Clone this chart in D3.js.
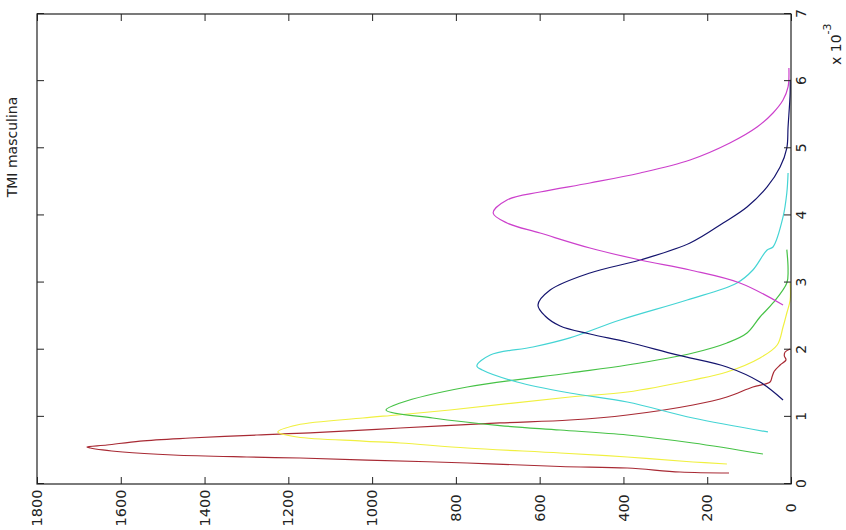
<!DOCTYPE html>
<html><head><meta charset="utf-8">
<script src="https://cdn.jsdelivr.net/npm/d3@7"></script>
<style>body{margin:0;background:#fff}svg{display:block}</style>
</head><body>
<svg id="c" width="846" height="530"></svg>
<script>
// x values are in units of 1e-3 (axis multiplier "x 10^-3")
const redX = [0.164,0.179,0.238,0.261,0.313,0.357,0.387,0.402,0.432,0.477,0.536,0.551,0.581,0.640,0.685,0.730,0.760,0.834,0.909,0.953,1.028,1.177,1.296,1.445,1.519,1.600,1.680,1.772,1.847,1.910,1.966,2.010];
const redY = [148,265,391,551,773,1012,1172,1299,1475,1595,1673,1681,1633,1554,1435,1275,1148,933,695,528,391,234,153,91,50,45,40,26,12,16,14,2];

const yellowX = [0.298,0.328,0.402,0.462,0.536,0.611,0.640,0.700,0.775,0.879,0.983,1.028,1.102,1.296,1.370,1.549,1.668,1.877,2.070,2.338,2.547,2.740,3.000];
const yellowY = [153,234,391,551,773,933,1022,1179,1225,1179,1022,940,814,528,391,234,153,74,33,19,10,2,2];

const greenX = [0.447,0.611,0.730,0.804,0.870,0.983,1.102,1.206,1.445,1.653,1.772,1.951,2.100,2.249,2.487,2.696,2.994,3.190,3.490];
const greenY = [67,234,391,551,695,855,967,933,773,528,391,234,153,105,74,43,10,7,10];

const cyanX = [0.775,0.983,1.221,1.355,1.519,1.698,1.757,1.921,2.040,2.176,2.443,2.741,2.994,3.187,3.485,3.530,3.977,4.334,4.632];
const cyanY = [55,234,391,528,654,737,750,718,616,528,408,248,129,91,57,43,19,10,7];

const blueX = [1.251,1.519,1.743,1.922,2.115,2.234,2.353,2.502,2.666,2.889,3.143,3.336,3.589,3.887,4.126,4.424,4.721,5.004,5.317,5.824,6.020];
const blueY = [19,74,153,272,391,480,551,587,604,575,480,360,241,162,105,57,26,10,7,2,2];

const magentaX = [2.666,2.994,3.187,3.336,3.515,3.738,3.887,4.036,4.230,4.349,4.483,4.632,4.826,5.079,5.317,5.526,5.719,5.913,6.196];
const magentaY = [19,122,241,360,480,599,678,711,678,599,480,360,241,146,81,43,19,7,5];

const seriesNames = ["red","yellow","green","cyan","blue","magenta"];
const seriesColors = ["#a82a34","#f0f040","#46c246","#44d4d4","#14146e","#cc40cc"];
const seriesX = [redX,yellowX,greenX,cyanX,blueX,magentaX];
const seriesY = [redY,yellowY,greenY,cyanY,blueY,magentaY];

const xTicks = [0,1,2,3,4,5,6,7];
const yTicks = [0,200,400,600,800,1000,1200,1400,1600,1800];
const titleText = "TMI masculina";

const svg = d3.select('#c');
// The whole MATLAB figure is rotated 90 degrees counter-clockwise
const g = svg.append('g').attr('transform','translate(0,530) rotate(-90)');

const x = d3.scaleLinear().domain([0,7]).range([46,516]);
const y = d3.scaleLinear().domain([0,1800]).range([791,37]);
const font = "'DejaVu Sans', 'Liberation Sans', Arial, sans-serif";

// curves
const line = d3.line().x(d=>x(d[0])).y(d=>y(d[1])).curve(d3.curveCatmullRom.alpha(0.5));
seriesX.forEach((xs,i)=>{
  const pts = xs.map((v,j)=>[v,seriesY[i][j]]);
  g.append('path').datum(pts).attr('d',line)
    .attr('fill','none').attr('stroke',seriesColors[i]).attr('stroke-width',1.2);
});

function styleAxis(sel, showText){
  sel.select('.domain').remove();
  sel.selectAll('line').attr('stroke','#222').attr('stroke-width',1);
  sel.selectAll('text').attr('fill','#222').style('font-family',font).style('font-size','14px');
  if(!showText) sel.selectAll('text').remove();
}
const xb = g.append('g').attr('transform',`translate(0,${y(0)})`)
  .call(d3.axisBottom(x).tickValues(xTicks).tickSize(-7).tickSizeOuter(0).tickPadding(5).tickFormat(d3.format('d')));
styleAxis(xb,true);
const xt = g.append('g').attr('transform',`translate(0,${y(1800)})`)
  .call(d3.axisTop(x).tickValues(xTicks).tickSize(-7).tickSizeOuter(0));
styleAxis(xt,false);
const yl = g.append('g').attr('transform',`translate(${x(0)},0)`)
  .call(d3.axisLeft(y).tickValues(yTicks).tickSize(-7).tickSizeOuter(0).tickPadding(6).tickFormat(d3.format('d')));
styleAxis(yl,true);
yl.selectAll('text').attr('x',-24).attr('text-anchor','middle').style('font-size','14.5px');
const yr = g.append('g').attr('transform',`translate(${x(7)},0)`)
  .call(d3.axisRight(y).tickValues(yTicks).tickSize(-7).tickSizeOuter(0));
styleAxis(yr,false);

// box
g.append('rect').attr('x',x(0)).attr('y',y(1800)).attr('width',x(7)-x(0)).attr('height',y(0)-y(1800))
  .attr('fill','none').attr('stroke','#222').attr('stroke-width',1.2);

// multiplier label
const mult = g.append('text').attr('x',465).attr('y',841)
  .style('font-family',font).style('font-size','14px').attr('fill','#222');
mult.append('tspan').text('x 10');
mult.append('tspan').attr('dy',-10).style('font-size','11px').text('-3');

// title
g.append('text').attr('x',383).attr('y',17).attr('text-anchor','middle')
  .style('font-family',font).style('font-size','14px').attr('fill','#222').text(titleText);
</script>
</body></html>
